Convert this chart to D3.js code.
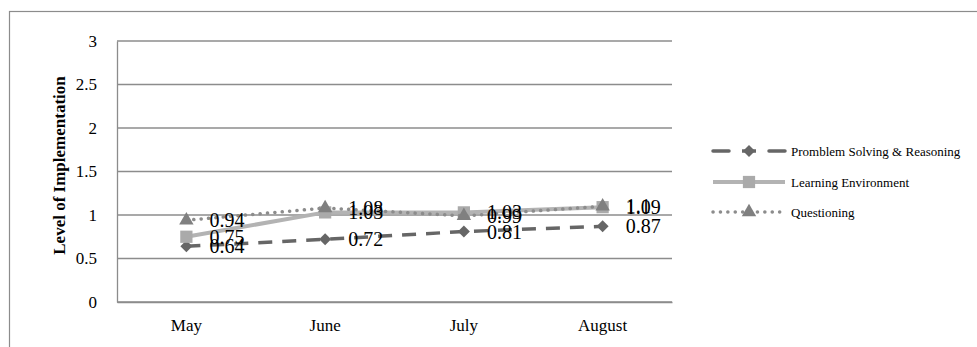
<!DOCTYPE html>
<html><head><meta charset="utf-8">
<script src="https://cdn.jsdelivr.net/npm/d3@7"></script>
<style>body{margin:0;background:#fff}svg{display:block}</style>
</head><body>
<svg id="c" width="977" height="347"></svg>
<script>
const months = ["May", "June", "July", "August"];
const psr = [0.64, 0.72, 0.81, 0.87];
const learnEnv = [0.75, 1.03, 1.03, 1.09];
const questioning = [0.94, 1.08, 0.99, 1.1];
const seriesNames = ["Promblem Solving & Reasoning", "Learning Environment", "Questioning"];
const yTicks = [0, 0.5, 1, 1.5, 2, 2.5, 3];
const yLabel = "Level of Implementation";

const svg = d3.select("#c");
const font = "'Liberation Serif','Times New Roman',serif";
const plot = {l: 117, r: 672, t: 41, b: 302};

svg.append("rect").attr("x", 9.5).attr("y", 11.5).attr("width", 1000).attr("height", 400)
  .attr("fill", "none").attr("stroke", "#8c8c8c").attr("stroke-width", 1.2);

const x = d3.scaleBand().domain(months).range([plot.l, plot.r]);
const y = d3.scaleLinear().domain([0, 3]).range([plot.b, plot.t]);

svg.append("g").selectAll("line").data(yTicks).join("line")
  .attr("x1", plot.l).attr("x2", plot.r)
  .attr("y1", d => y(d)).attr("y2", d => y(d))
  .attr("stroke", "#8c8c8c").attr("stroke-width", 1.3);

const yAxis = svg.append("g").attr("transform", `translate(${plot.l},0)`)
  .call(d3.axisLeft(y).tickValues(yTicks).tickFormat(d => d).tickSize(0).tickPadding(20));
yAxis.select(".domain").attr("stroke", "#8c8c8c").attr("stroke-width", 1.3);
yAxis.selectAll("text").attr("font-family", font).attr("font-size", 17).attr("fill", "#000");

const xAxis = svg.append("g").attr("transform", `translate(0,${plot.b})`)
  .call(d3.axisBottom(x).tickSize(0).tickPadding(17));
xAxis.select(".domain").attr("stroke", "#8c8c8c").attr("stroke-width", 1.3);
xAxis.selectAll("text").attr("font-family", font).attr("font-size", 17).attr("fill", "#000");

svg.append("text").attr("transform", `translate(59,${(plot.t + plot.b) / 2 - 6}) rotate(-90)`)
  .attr("text-anchor", "middle").attr("dy", "0.35em").attr("font-family", font).attr("font-weight", "bold")
  .attr("font-size", 17).text(yLabel);

const cx = m => x(m) + x.bandwidth() / 2;

const styles = [
  {data: psr, stroke: "#666666", width: 3.5, dash: "14,10", cap: "butt", marker: d3.symbolSquare, msize: 72, rot: 45, mfill: "#666666"},
  {data: learnEnv, stroke: "#b3b3b3", width: 4, dash: null, cap: "butt", marker: d3.symbolSquare, msize: 150, rot: 0, mfill: "#aaaaaa"},
  {data: questioning, stroke: "#8c8c8c", width: 3.5, dash: "0.1,7.3", cap: "round", marker: d3.symbolTriangle, msize: 90, rot: 0, mfill: "#808080"}
];

const line = d3.line().x((d, i) => cx(months[i])).y(d => y(d));

styles.forEach(s => {
  svg.append("path").datum(s.data).attr("d", line).attr("fill", "none")
    .attr("stroke", s.stroke).attr("stroke-width", s.width)
    .attr("stroke-dasharray", s.dash).attr("stroke-linecap", s.cap);
  svg.append("g").selectAll("path").data(s.data).join("path")
    .attr("transform", (d, i) => `translate(${cx(months[i])},${y(d)}) rotate(${s.rot})`)
    .attr("d", d3.symbol().type(s.marker).size(s.msize)).attr("fill", s.mfill);
});

styles.forEach(s => {
  svg.append("g").selectAll("text").data(s.data).join("text")
    .attr("x", (d, i) => cx(months[i]) + 23).attr("y", d => y(d))
    .attr("dy", "0.35em").attr("font-family", font).attr("font-size", 20).attr("fill", "#000")
    .text(d => d);
});

const legY = [151, 182, 212];
styles.forEach((s, i) => {
  const g = svg.append("g");
  if (i === 0) {
    [[713, 729], [769, 785]].forEach(([a, b]) => {
      g.append("line").attr("x1", a).attr("x2", b).attr("y1", legY[i]).attr("y2", legY[i])
        .attr("stroke", s.stroke).attr("stroke-width", s.width).attr("stroke-linecap", "round");
    });
    g.append("line").attr("x1", 742).attr("x2", 756).attr("y1", legY[i]).attr("y2", legY[i])
      .attr("stroke", s.stroke).attr("stroke-width", s.width);
  } else {
    g.append("line").attr("x1", 713).attr("x2", 785).attr("y1", legY[i]).attr("y2", legY[i])
      .attr("stroke", s.stroke).attr("stroke-width", s.width)
      .attr("stroke-dasharray", s.dash).attr("stroke-linecap", s.cap);
  }
  g.append("path").attr("transform", `translate(749,${legY[i]}) rotate(${s.rot})`)
    .attr("d", d3.symbol().type(s.marker).size(s.msize)).attr("fill", s.mfill);
  g.append("text").attr("x", 791).attr("y", legY[i]).attr("dy", "0.35em")
    .attr("font-family", font).attr("font-size", 13).attr("fill", "#000").text(seriesNames[i]);
});
</script>
</body></html>
